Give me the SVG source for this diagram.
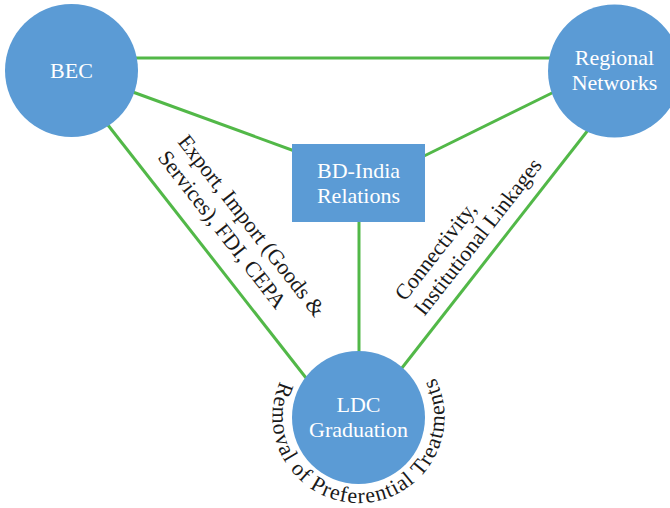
<svg xmlns="http://www.w3.org/2000/svg" width="670" height="508" viewBox="0 0 670 508">
<defs>
<style>
.edge{stroke:#52B848;stroke-width:3;fill:none}
.node{fill:#5B9BD5}
.lbl{font-family:"Liberation Serif","Times New Roman",serif;font-size:22px;fill:#ffffff;text-anchor:middle}
.elbl{font-family:"Liberation Serif","Times New Roman",serif;font-size:22px;fill:#1a1a1a}
</style>
<path id="arc" d="M 280.4 381.1 A 86 86 0 1 0 419.3 356.2"/>
</defs>
<rect width="670" height="508" fill="#ffffff"/>
<g id="connectors">
<line class="edge" x1="130" y1="58" x2="552" y2="58"/>
<line class="edge" x1="130" y1="91" x2="300" y2="153"/>
<line class="edge" x1="556" y1="91" x2="418" y2="159"/>
<line class="edge" x1="359" y1="215" x2="359" y2="360"/>
<line class="edge" x1="104" y1="120" x2="310" y2="383"/>
<line class="edge" x1="592" y1="125" x2="398" y2="373"/>
</g>
<g id="node-bec">
<circle class="node" cx="71.5" cy="70.5" r="66.5"/>
<text class="lbl" x="71.5" y="78">BEC</text>
</g>
<g id="node-regional">
<circle class="node" cx="614.5" cy="71" r="66.5"/>
<text class="lbl" x="614.5" y="65">Regional</text>
<text class="lbl" x="614.5" y="90">Networks</text>
</g>
<g id="node-bdindia">
<rect class="node" x="292" y="144" width="133" height="78"/>
<text class="lbl" x="358.5" y="178">BD-India</text>
<text class="lbl" x="358.5" y="203">Relations</text>
</g>
<g id="node-ldc">
<circle class="node" cx="358.5" cy="417.5" r="66.5"/>
<text class="lbl" x="358.5" y="412">LDC</text>
<text class="lbl" x="358.5" y="437">Graduation</text>
</g>
<g id="edge-labels">
<g transform="translate(177,142) rotate(52)">
<text class="elbl" x="0" y="0">Export, Import (Goods &amp;</text>
<text class="elbl" x="0" y="25.5">Services), FDI, CEPA</text>
</g>
<g transform="translate(405,302) rotate(-52)">
<text class="elbl" x="0" y="0">Connectivity,</text>
<text class="elbl" x="0" y="24.5">Institutional Linkages</text>
</g>
<text class="elbl" letter-spacing="1"><textPath href="#arc">Removal of Preferential Treatments</textPath></text>
</g>
</svg>
